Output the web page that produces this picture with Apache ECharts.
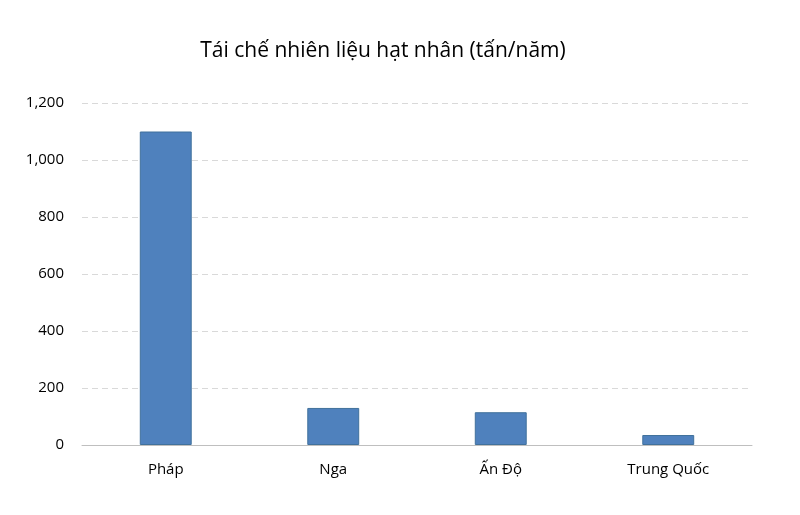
<!DOCTYPE html>
<html><head><meta charset="utf-8">
<script src="https://cdn.jsdelivr.net/npm/echarts@6/dist/echarts.min.js"></script>
<style>html,body{margin:0;background:#fff}#c{width:800px;height:515px}</style>
</head><body><div id="c"></div>
<script>
const categories = ['Pháp', 'Nga', 'Ấn Độ', 'Trung Quốc'];
const values = [1100, 130, 115, 35];
const chart = echarts.init(document.getElementById('c'));
chart.setOption({
  animation: false,
  title: { text: 'Tái chế nhiên liệu hạt nhân (tấn/năm)', left: 378, top: 36, textAlign: 'center',
    textStyle: { fontFamily: 'Open Sans', fontSize: 21, fontWeight: 'normal', color: '#000' } },
  grid: { left: 82, right: 48, top: 103, bottom: 70 },
  xAxis: { type: 'category', data: categories,
    axisLine: { lineStyle: { color: '#bfbfbf' } }, axisTick: { show: false },
    axisLabel: { fontFamily: 'Open Sans', fontSize: 15, color: '#000', margin: 17 } },
  yAxis: { type: 'value', min: 0, max: 1200, interval: 200,
    axisLine: { show: false }, axisTick: { show: false },
    splitLine: { lineStyle: { color: '#d9d9d9', type: [6, 4] } },
    axisLabel: { fontFamily: 'Open Sans', fontSize: 15, color: '#000', margin: 18 } },
  series: [{ type: 'bar', data: values, barWidth: '31%',
    itemStyle: { color: '#4f81bd', borderColor: '#41719c', borderWidth: 1 } }]
});
</script></body></html>
